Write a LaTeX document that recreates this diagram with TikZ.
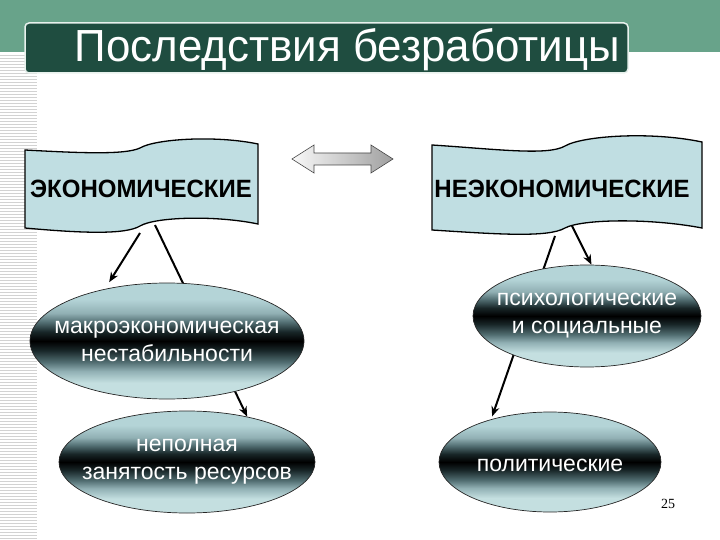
\documentclass[tikz,border=0pt]{standalone}
\usepackage{fontspec}
\setmainfont{Liberation Sans}
\newfontfamily\numfont{Liberation Serif}
\usepackage{xcolor}
\usepackage{tikz}
\usetikzlibrary{arrows.meta,calc,shapes.geometric,backgrounds}

\definecolor{bandgreen}{RGB}{104,163,138}
\definecolor{titlegreen}{RGB}{31,77,64}
\definecolor{bannerblue}{RGB}{192,222,226}
\definecolor{ovaltop}{RGB}{180,212,215}
\definecolor{ovalbot}{RGB}{196,223,224}
\definecolor{ovalhi}{RGB}{145,176,180}
\definecolor{ovalmid}{RGB}{80,108,112}
\definecolor{ovallow}{RGB}{24,38,40}
\pgfdeclareverticalshading{ovalshade}{100bp}{color(0bp)=(ovalbot); color(32bp)=(ovalbot);
    color(37bp)=(ovalhi); color(41bp)=(ovalmid); color(46bp)=(ovallow); color(50bp)=(black);
    color(54bp)=(ovallow); color(58bp)=(ovalmid); color(62bp)=(ovalhi); color(68bp)=(ovaltop);
    color(100bp)=(ovaltop)}

\begin{document}
\begin{tikzpicture}[x=10pt,y=10pt,
        banner/.style={draw=black,line width=1.3pt,fill=bannerblue},
        bannertext/.style={font=\bfseries\fontsize{25}{28}\selectfont},
        oval/.style={ellipse,draw=black!85,line width=0.7pt,shading=ovalshade,inner sep=0pt},
        ovaltext/.style={text=white,align=center,font=\fontsize{23}{28}\selectfont},
        arr/.style={-{Stealth[length=10pt,width=8pt]},line width=2pt}]
    \useasboundingbox (0,0) rectangle (72,-54);
    \fill[bandgreen] (0,0) rectangle (72,-5.2);
    \foreach \y in {5.5,5.8,...,54}
        \draw[gray!35,line width=0.8pt] (0,-\y) -- (3.7,-\y);
    \draw[fill=titlegreen,draw=white!85!bandgreen,line width=1.5pt,rounded corners=4pt] (2.5,-2.3) rectangle (62.8,-7.3);
    \node[text=white,font=\fontsize{45}{50}\selectfont,anchor=base] (title) at (34.75,-6.2) {\scalebox{0.975}[1]{Последствия безработицы}};

    \draw[banner] (2.5,-15) .. controls (8,-15.3) and (12.5,-15.5) .. (14,-14.8)
        .. controls (15.5,-13.9) and (21.5,-13.5) .. (25.8,-14.4) -- (25.8,-22.4)
        .. controls (21.5,-21.5) and (15.5,-21.7) .. (14,-22.6)
        .. controls (12.5,-23.5) and (8,-23.3) .. (2.5,-22.8) -- cycle;
    \node[bannertext] (econ) at (14.1,-18.9) {\scalebox{0.96}[1]{ЭКОНОМИЧЕСКИЕ}};
    \draw[banner] (43.2,-14.5) .. controls (49.5,-14.9) and (54.8,-15.6) .. (56.5,-14.6)
        .. controls (58.2,-13.6) and (65,-13.1) .. (70.2,-14.2) -- (70.2,-22.8)
        .. controls (65,-21.8) and (58.2,-21.9) .. (56.5,-22.8)
        .. controls (54.8,-23.8) and (49.5,-23.4) .. (43.2,-23) -- cycle;
    \node[bannertext] (noecon) at (56.2,-18.9) {\scalebox{0.96}[1]{НЕЭКОНОМИЧЕСКИЕ}};

    \draw[left color=gray!5,right color=gray!75,draw=gray!55!black,line width=0.6pt]
        (29.2,-15.9) -- (31.4,-14.5) -- (31.4,-15.3) -- (37.1,-15.3) -- (37.1,-14.5) -- (39.3,-15.9)
        -- (37.1,-17.3) -- (37.1,-16.5) -- (31.4,-16.5) -- (31.4,-17.3) -- cycle;

    \node[oval,minimum width=274pt,minimum height=116pt] (macro) at (16.7,-34.1) {};
    \node[ovaltext] (macrotext) at (macro) {макроэкономическая\\нестабильности};
    \node[oval,minimum width=256pt,minimum height=102pt] (underuse) at (18.7,-46.2) {};
    \node[ovaltext] (underusetext) at (underuse) {неполная\\занятость ресурсов};
    \node[oval,minimum width=228pt,minimum height=102pt] (psych) at (58.7,-31.6) {};
    \node[ovaltext] (psychtext) at (psych) {психологические\\и социальные};
    \node[oval,minimum width=222pt,minimum height=100pt] (polit) at (55,-46.2) {};
    \node[ovaltext] (polittext) at ($(polit)+(0,-0.3)$) {политические};

    \node[font=\numfont\fontsize{14}{16}\selectfont] (pagenum) at (66.8,-50.4) {25};

    \coordinate (econ-a) at (14,-23.3);
    \coordinate (econ-b) at (15.5,-22.5);
    \coordinate (noecon-a) at (56.8,-21.8);
    \coordinate (noecon-b) at (55.5,-23.6);
    \begin{scope}[on background layer]
        \draw[arr,shorten >=8pt] (econ-a) -- (macro.140);
        \draw[arr] (econ-b) -- (underuse.37);
        \draw[arr] (noecon-a) -- (psych.85);
        \draw[arr,shorten >=3pt] (noecon-b) -- (polit.144);
    \end{scope}
\end{tikzpicture}
\end{document}
